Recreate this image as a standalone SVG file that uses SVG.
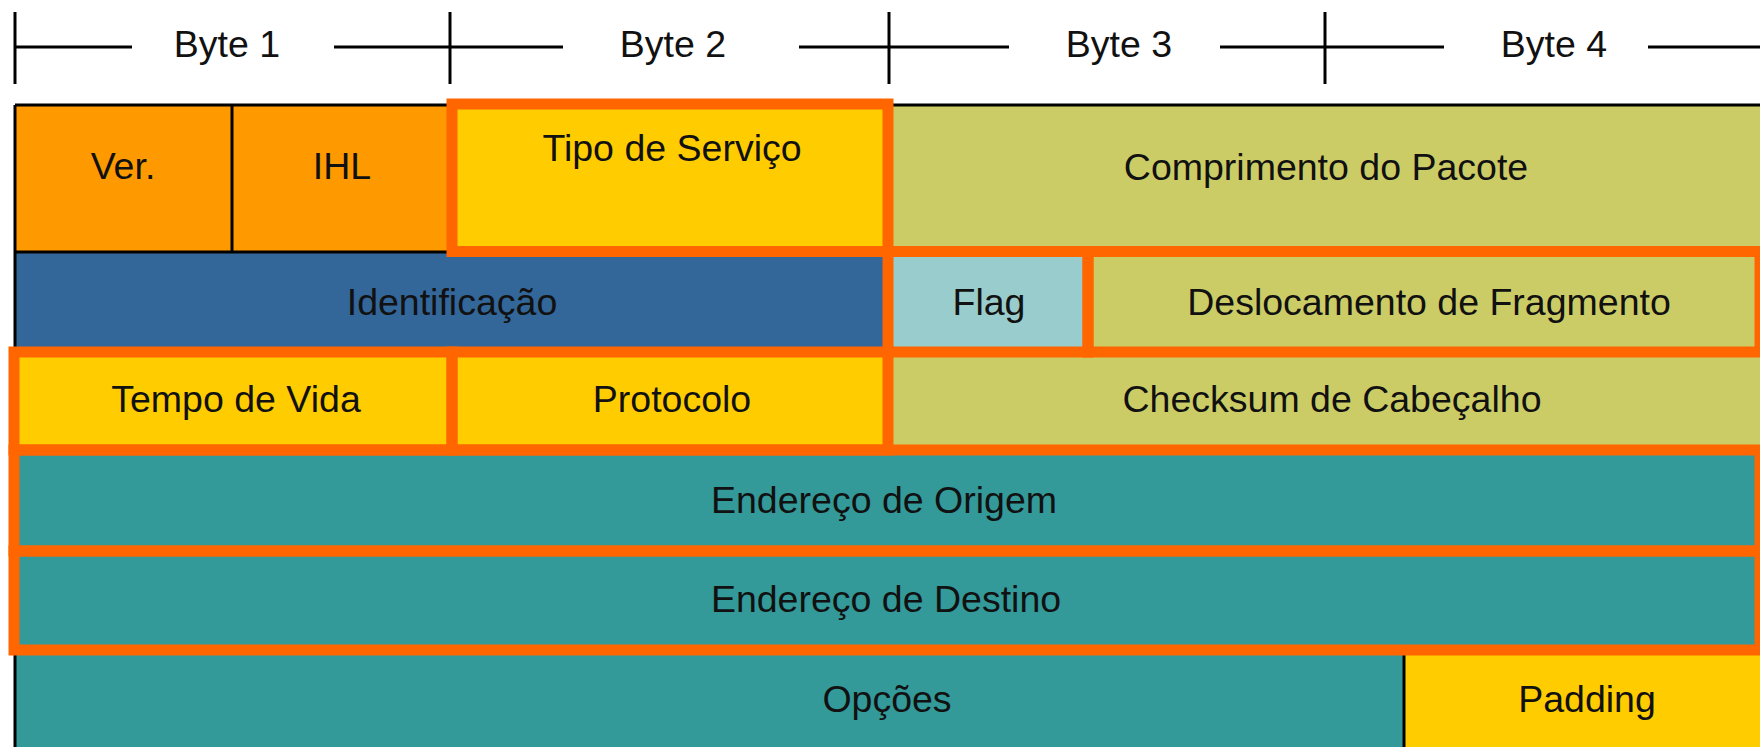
<svg xmlns="http://www.w3.org/2000/svg" width="1760" height="747" viewBox="0 0 1760 747">
<style>
text{font-family:"Liberation Sans",Arial,sans-serif;font-size:37.5px;fill:#111;text-anchor:middle}
.rl{stroke:#000;stroke-width:3;fill:none}
.bl{stroke:#000;stroke-width:3;fill:none}
.hl{stroke:#FF6600;stroke-width:11;fill:none}
.or{fill:#FF9900}.ye{fill:#FFCC00}.ol{fill:#CCCC66}.bu{fill:#336699}.lb{fill:#99CCCC}.te{fill:#339999}
</style>
<rect width="1760" height="747" fill="#fff"/>
<g id="ruler">
<line class="rl" x1="15" y1="12" x2="15" y2="84"/>
<line class="rl" x1="450" y1="12" x2="450" y2="84"/>
<line class="rl" x1="889" y1="12" x2="889" y2="84"/>
<line class="rl" x1="1325" y1="12" x2="1325" y2="84"/>
<line class="rl" x1="15" y1="47" x2="132" y2="47"/>
<line class="rl" x1="334" y1="47" x2="563" y2="47"/>
<line class="rl" x1="799" y1="47" x2="1009" y2="47"/>
<line class="rl" x1="1220" y1="47" x2="1444" y2="47"/>
<line class="rl" x1="1648" y1="47" x2="1760" y2="47"/>
<text x="227" y="57">Byte 1</text>
<text x="673" y="57">Byte 2</text>
<text x="1119" y="57">Byte 3</text>
<text x="1554" y="57">Byte 4</text>
</g>
<g id="ver"><rect class="or" x="15" y="105" width="217" height="147"/><text x="123" y="179">Ver.</text></g>
<g id="ihl"><rect class="or" x="232" y="105" width="218" height="147"/><text x="342" y="179">IHL</text></g>
<g id="tipo"><rect class="ye" x="450" y="105" width="438" height="147"/><text x="672" y="161">Tipo de Serviço</text></g>
<g id="comprimento"><rect class="ol" x="888" y="105" width="872" height="147"/><text x="1326" y="180">Comprimento do Pacote</text></g>
<g id="identificacao"><rect class="bu" x="15" y="252" width="873" height="100"/><text x="452" y="315">Identificação</text></g>
<g id="flag"><rect class="lb" x="888" y="252" width="200" height="100"/><text x="989" y="315">Flag</text></g>
<g id="deslocamento"><rect class="ol" x="1088" y="252" width="672" height="100"/><text x="1429" y="315">Deslocamento de Fragmento</text></g>
<g id="tempo"><rect class="ye" x="15" y="352" width="437" height="98"/><text x="236" y="412">Tempo de Vida</text></g>
<g id="protocolo"><rect class="ye" x="452" y="352" width="436" height="98"/><text x="672" y="412">Protocolo</text></g>
<g id="checksum"><rect class="ol" x="888" y="352" width="872" height="98"/><text x="1332" y="412">Checksum de Cabeçalho</text></g>
<g id="origem"><rect class="te" x="15" y="450" width="1745" height="101"/><text x="884" y="513">Endereço de Origem</text></g>
<g id="destino"><rect class="te" x="15" y="551" width="1745" height="99"/><text x="886" y="612">Endereço de Destino</text></g>
<g id="opcoes"><rect class="te" x="15" y="650" width="1389" height="97"/><text x="887" y="712">Opções</text></g>
<g id="padding"><rect class="ye" x="1404" y="650" width="356" height="97"/><text x="1587" y="712">Padding</text></g>
<g id="borders">
<line class="bl" x1="15" y1="105" x2="1760" y2="105"/>
<line class="bl" x1="15" y1="105" x2="15" y2="747"/>
<line class="bl" x1="232" y1="105" x2="232" y2="252"/>
<line class="bl" x1="15" y1="252" x2="450" y2="252"/>
<line class="bl" x1="1404" y1="650" x2="1404" y2="747"/>
</g>
<g id="highlights">
<rect class="hl" x="452" y="104" width="436" height="147.5"/>
<rect class="hl" x="888" y="251.5" width="200" height="100.5"/>
<rect class="hl" x="1088" y="251.5" width="672" height="100.5"/>
<rect class="hl" x="14" y="352" width="438" height="98"/>
<rect class="hl" x="452" y="352" width="436" height="98"/>
<rect class="hl" x="14" y="450" width="1746" height="101"/>
<rect class="hl" x="14" y="551" width="1746" height="99"/>
</g>
<g id="connectors"/>
</svg>
